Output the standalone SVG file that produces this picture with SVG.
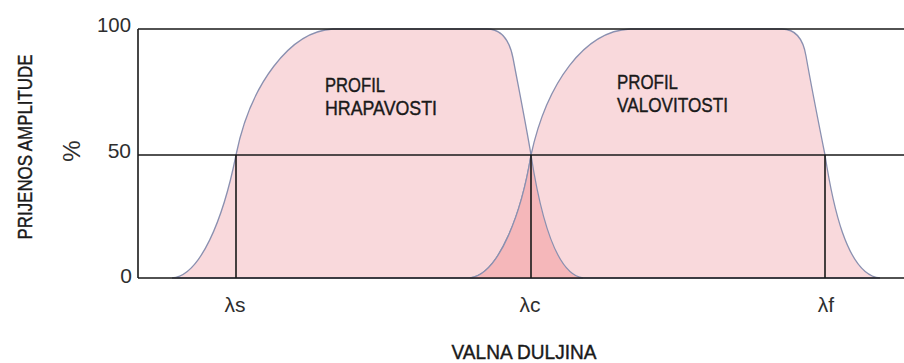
<svg xmlns="http://www.w3.org/2000/svg" width="904" height="363" viewBox="0 0 904 363">
<style>
.num{font-family:"Liberation Sans",Arial,sans-serif;font-size:21px;fill:#2e2e2e;}
.cap{font-family:"Liberation Sans",Arial,sans-serif;font-size:20px;fill:#1a1a1a;stroke:#1a1a1a;stroke-width:0.4;}
.grid{stroke:#1a1a1a;stroke-width:1.6;fill:none;}
.curve{stroke:#8a90b0;stroke-width:1.3;fill:#f9d9dc;}
</style>
<defs>
<path id="p1" d="M172,278 C200,276 223,220 236,155 C250,85 290,31 333,29 L487,29 C500,29 509,38 513,58 C520,95 526,125 531,155 C538,200 553,274 583,278 Z"/>
<path id="p2" d="M470,278 C500,274 522,210 531,155 C547,82 585,31 630,29 L782,29 C795,29 803,38 806,56 C812,90 819,125 825,155 C832,200 846,275 880,278 Z"/>
<clipPath id="c1"><use href="#p1"/></clipPath>
</defs>
<rect width="904" height="363" fill="#ffffff"/>
<g id="roughness">
<use href="#p1" class="curve"/>
</g>
<g id="waviness">
<use href="#p2" class="curve"/>
</g>
<g id="overlap">
<use href="#p2" fill="#f5b7ba" stroke="none" clip-path="url(#c1)"/>
<path d="M470,278 C500,274 522,210 531,155 C538,200 553,274 583,278" fill="none" stroke="#8a90b0" stroke-width="1.3"/>
</g>
<g id="grid">
<path class="grid" d="M138,29 H904 M138,155 H904 M138,278 H904 M138,29 V278 M236,155 V278 M531,155 V278 M825,155 V278"/>
</g>
<g id="labels">
<text class="num" x="131" y="32" text-anchor="end" textLength="34" lengthAdjust="spacingAndGlyphs">100</text>
<text class="num" x="131" y="158" text-anchor="end">50</text>
<text class="num" x="132" y="283" text-anchor="end">0</text>
<text class="num" x="0" y="0" transform="translate(80,151) rotate(-90)" text-anchor="middle" style="font-size:24px">%</text>
<text class="cap" x="0" y="0" transform="translate(32,147) rotate(-90)" text-anchor="middle" textLength="185" lengthAdjust="spacingAndGlyphs">PRIJENOS AMPLITUDE</text>
<text class="cap" x="325" y="92" textLength="60" lengthAdjust="spacingAndGlyphs">PROFIL</text>
<text class="cap" x="325" y="115" textLength="112" lengthAdjust="spacingAndGlyphs">HRAPAVOSTI</text>
<text class="cap" x="617" y="89" textLength="61" lengthAdjust="spacingAndGlyphs">PROFIL</text>
<text class="cap" x="617" y="112" textLength="111" lengthAdjust="spacingAndGlyphs">VALOVITOSTI</text>
<text class="num" x="235" y="312" text-anchor="middle">λs</text>
<text class="num" x="530" y="312" text-anchor="middle">λc</text>
<text class="num" x="826" y="312" text-anchor="middle">λf</text>
<text class="cap" x="524" y="359" text-anchor="middle" textLength="145" lengthAdjust="spacingAndGlyphs">VALNA DULJINA</text>
</g>
</svg>
